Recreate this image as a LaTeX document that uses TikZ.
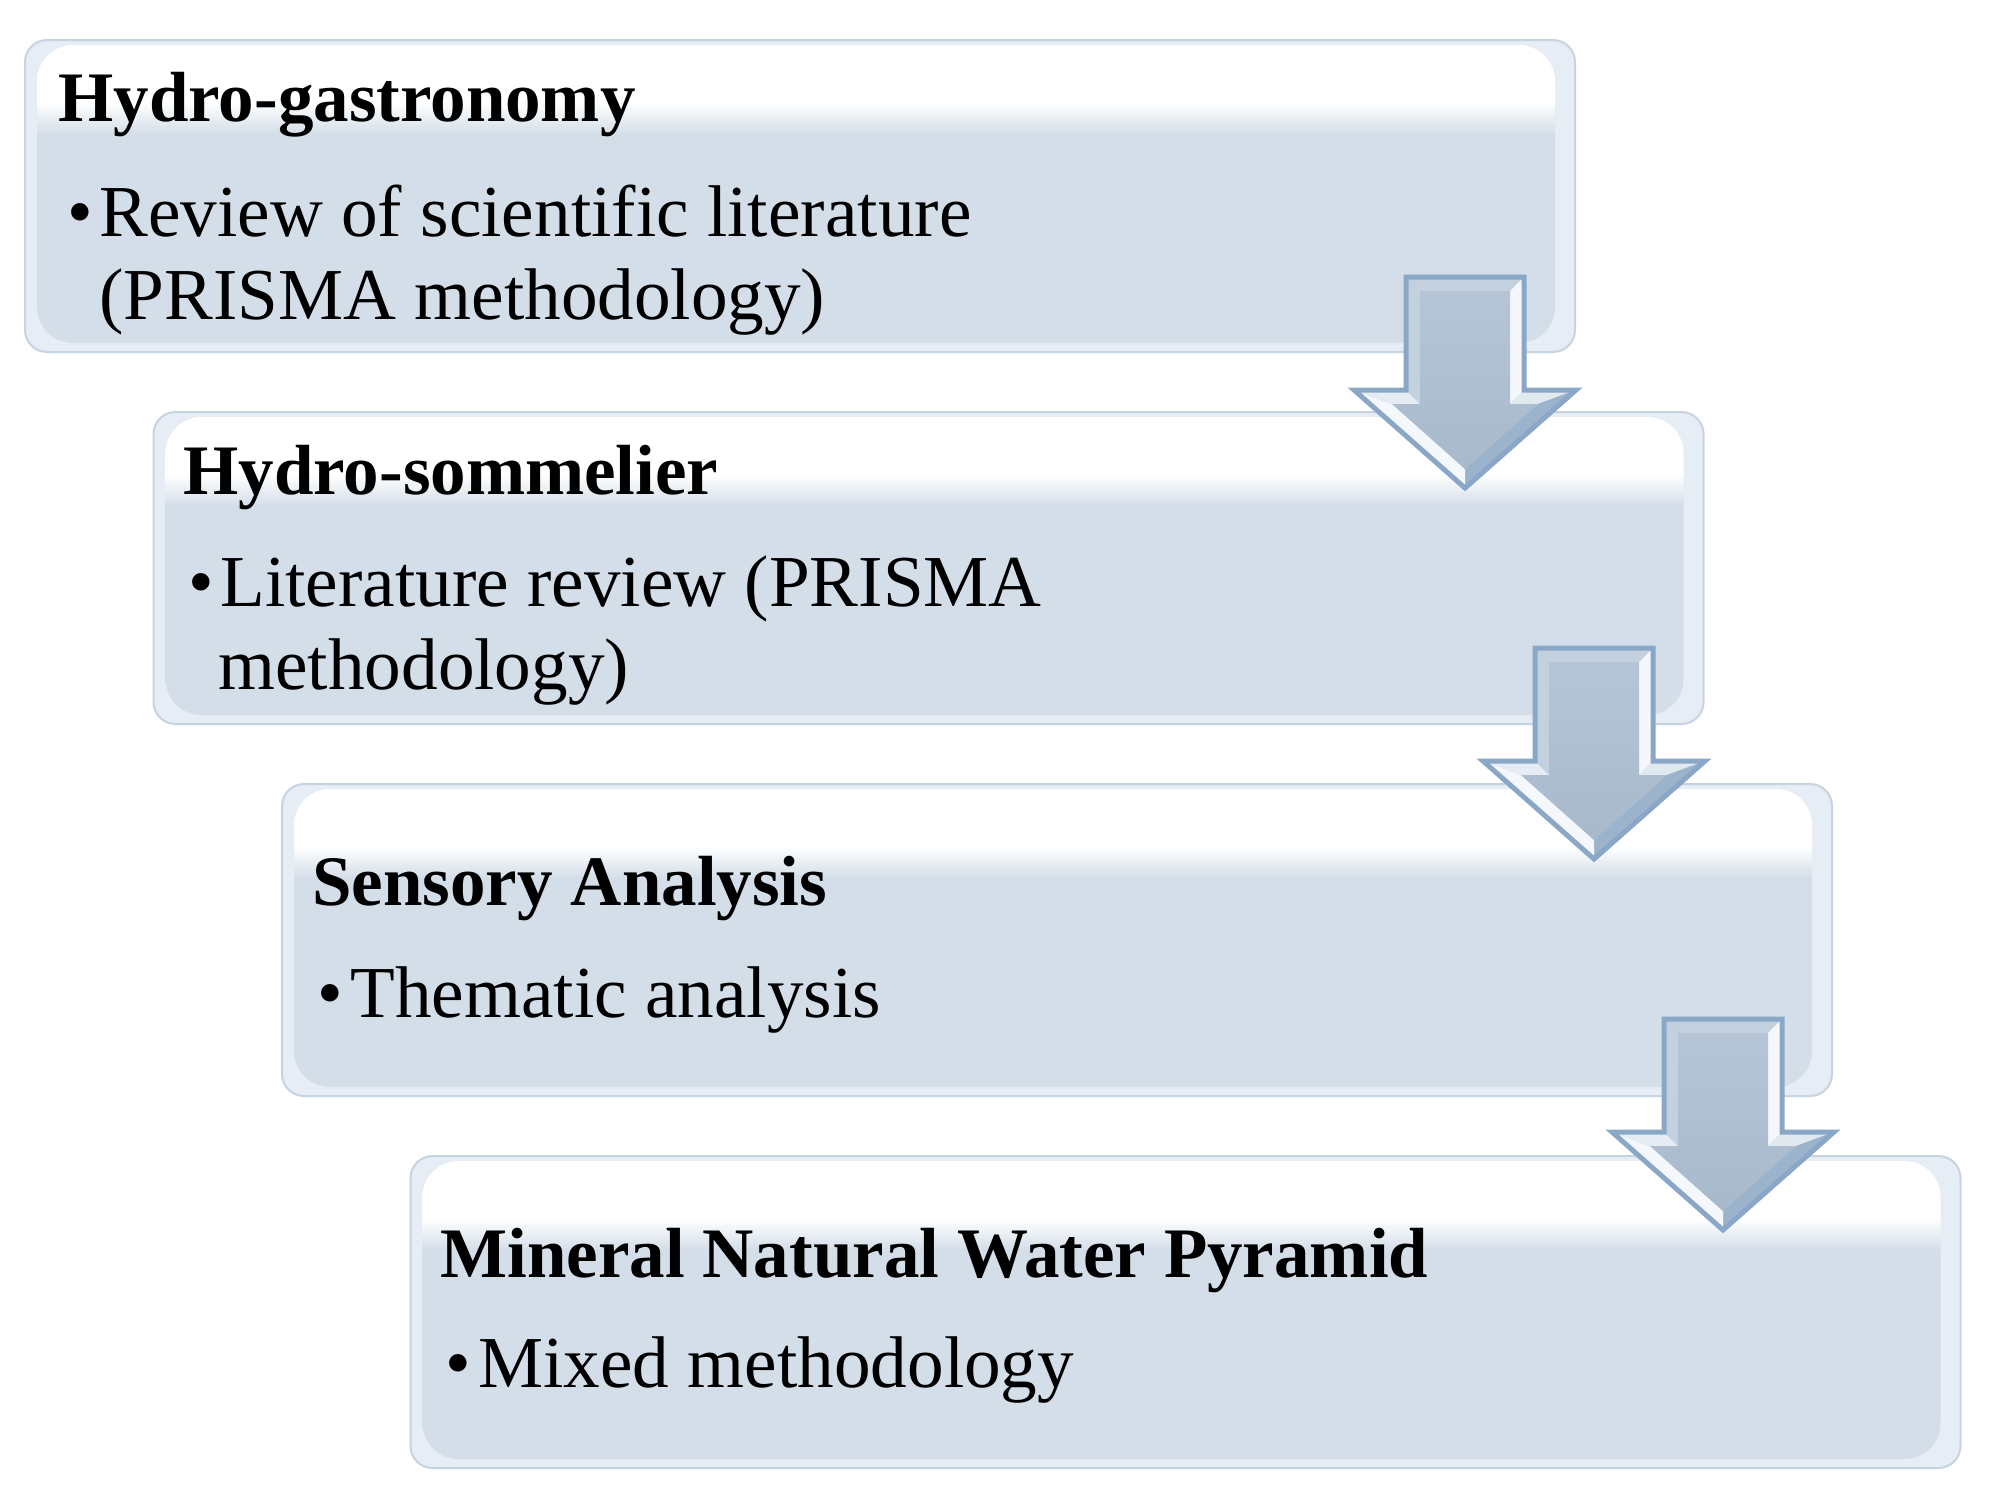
\documentclass[tikz,border=0pt]{standalone}
\usepackage{fontspec}
\setmainfont{Liberation Serif}
\usetikzlibrary{calc}
\definecolor{boxfill}{HTML}{D4DEE8}
\definecolor{boxedge}{HTML}{C6D4E2}
\definecolor{boxlight}{HTML}{E6EDF4}
\definecolor{arrfill}{HTML}{ADBFD2}
\definecolor{arredge}{HTML}{8AA7C7}
\definecolor{arrwhite}{HTML}{F4F8FC}
\definecolor{arrpale}{HTML}{C3D1DF}
\definecolor{arrdark}{HTML}{9CB3CC}
\pgfdeclareverticalshading{boxshade}{100bp}{color(0bp)=(boxfill); color(60bp)=(boxfill); color(65.5bp)=(white); color(100bp)=(white)}
\tikzset{
  boxbase/.style={rectangle, rounded corners=11pt, minimum width=775pt, minimum height=156pt,
    inner sep=0pt, outer sep=0pt, fill=boxlight, draw=boxedge, line width=1pt},
  ttl/.style={anchor=base west, inner sep=0pt, font=\fontsize{35.5}{40}\selectfont\bfseries},
  bodytxt/.style={anchor=base west, inner sep=0pt, font=\fontsize{36.6}{40}\selectfont},
  bul/.style={anchor=base, inner sep=0pt, font=\fontsize{36.6}{40}\selectfont},
}
% glossy box: #1 name, #2 left, #3 top (pixels, y down)
\newcommand\glassbox[3]{%
  \node[boxbase] (#1) at ({#2+775},{#3+156}) {};
  \begin{scope}[shift={(#2,#3)}]
    \shade[shading=boxshade, rounded corners=18] (12,5) rectangle (1530,303);
  \end{scope}}
% block arrow: #1 center x, #2 top y
\newcommand\blockarrow[2]{%
  \begin{scope}[shift={(#1,#2)}]
    \fill[arrfill] (-59,0) -- (59,0) -- (59,113) -- (111,113) -- (0,211) -- (-111,113) -- (-59,113) -- cycle;
    \fill[arrpale] (-59,0) -- (59,0) -- (45,14) -- (-45,14) -- cycle;
    \fill[arrwhite] (59,0) -- (59,113) -- (45,127) -- (45,14) -- cycle;
    \fill[arrwhite!60!arrpale] (59,113) -- (111,113) -- (73,127) -- (45,127) -- cycle;
    \fill[arrdark] (111,113) -- (0,211) -- (0,192) -- (73,127) -- cycle;
    \fill[arrwhite] (-111,113) -- (0,211) -- (0,192) -- (-73,127) -- cycle;
    \fill[arrwhite!70!arrpale] (-59,113) -- (-111,113) -- (-73,127) -- (-45,127) -- cycle;
    \fill[arrpale] (-59,0) -- (-59,113) -- (-45,127) -- (-45,14) -- cycle;
    \shade[top color=arrfill!90!white, bottom color=arrfill!97!black]
      (-45,14) -- (45,14) -- (45,127) -- (73,127) -- (0,192) -- (-73,127) -- (-45,127) -- cycle;
    \draw[arredge, line width=2.5pt, line join=miter] (-59,0) -- (59,0) -- (59,113) -- (111,113) -- (0,211) -- (-111,113) -- (-59,113) -- cycle;
  \end{scope}}
\begin{document}
\begin{tikzpicture}[x=0.5pt, y=-0.5pt]
  \useasboundingbox[fill=white] (0,0) rectangle (1990,1505);
  % boxes
  \glassbox{b0}{25}{40}
  \glassbox{b1}{153.5}{412}
  \glassbox{b2}{282}{784}
  \glassbox{b3}{410.5}{1156}
  % box 0 text
  \node[ttl] (t0) at (58,121) {Hydro-gastronomy};
  \node[bul] (u0) at (80,236) {\textbullet};
  \node[bodytxt] (l0a) at (99,236) {Review of scientific literature};
  \node[bodytxt] (l0b) at (99,319) {(PRISMA methodology)};
  % box 1 text
  \node[ttl] (t1) at (183,494) {Hydro-sommelier};
  \node[bul] (u1) at (201,606) {\textbullet};
  \node[bodytxt] (l1a) at (220,606) {Literature review (PRISMA};
  \node[bodytxt] (l1b) at (218,689) {methodology)};
  % box 2 text
  \node[ttl] (t2) at (312,905) {Sensory Analysis};
  \node[bul] (u2) at (330,1017) {\textbullet};
  \node[bodytxt] (l2a) at (350,1017) {Thematic analysis};
  % box 3 text
  \node[ttl] (t3) at (440,1277) {Mineral Natural Water Pyramid};
  \node[bul] (u3) at (458,1387) {\textbullet};
  \node[bodytxt] (l3a) at (478,1387) {Mixed methodology};
  % arrows
  \blockarrow{1465}{277}
  \blockarrow{1594}{648}
  \blockarrow{1723}{1019}
\end{tikzpicture}
\end{document}
